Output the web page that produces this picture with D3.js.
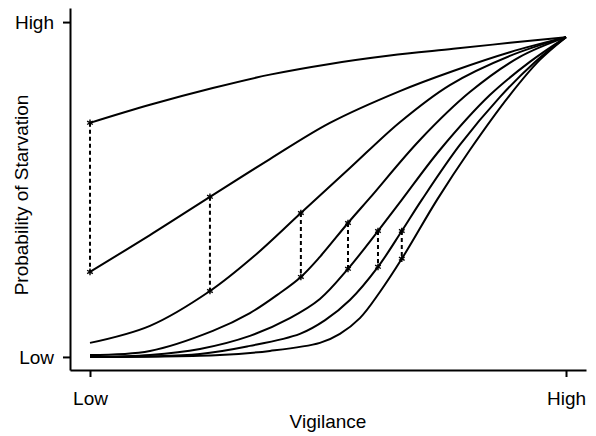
<!DOCTYPE html>
<html>
<head>
<meta charset="utf-8">
<script src="https://cdn.jsdelivr.net/npm/d3@7"></script>
<style>
  body { margin: 0; background: #fff; }
  text { font-family: "Liberation Sans", Arial, Helvetica, sans-serif; }
</style>
</head>
<body>
<svg id="chart"></svg>
<script>
// vigilance (0 = Low, 100 = High) vs probability of starvation (0 = Low, 100 = High)
const curve1X = [0, 12.6, 25.8, 37.8, 50.4, 63.0, 76.3, 88.2, 100];
const curve1Y = [69.9, 75.3, 80.3, 84.3, 87.5, 90.0, 92.0, 93.8, 95.5];

const curve2X = [0, 12.6, 25.2, 37.8, 50.4, 65.1, 76.3, 88.2, 100];
const curve2Y = [25.4, 36.4, 47.8, 59.1, 69.9, 79.4, 85.4, 91.0, 95.5];

const curve3X = [0, 12.6, 25.2, 34.7, 44.3, 54.6, 65.1, 75.6, 88.2, 100];
const curve3Y = [4.2, 9.3, 19.7, 30.4, 43.0, 56.4, 70.1, 81.2, 89.9, 95.5];

const curve4X = [0, 12.6, 25.8, 33.6, 39.9, 44.3, 48.3, 54.2, 58.8, 69.3, 79.8, 90.3, 100];
const curve4Y = [0.6, 1.8, 7.8, 13.1, 19.1, 23.9, 29.9, 40.0, 47.5, 64.8, 79.1, 89.6, 95.5];

const curve5X = [0, 12.6, 23.1, 33.6, 42.0, 48.3, 54.2, 60.5, 65.5, 73.5, 84.0, 92.4, 100];
const curve5Y = [0, 0.6, 2.4, 6.3, 11.6, 17.3, 26.3, 37.6, 46.9, 61.8, 78.2, 88.1, 95.5];

const curve6X = [0, 23.1, 33.6, 44.1, 49.4, 54.6, 60.5, 65.5, 69.7, 77.7, 86.1, 93.5, 100];
const curve6Y = [0, 0.9, 3.3, 6.9, 11.0, 17.0, 26.9, 37.6, 46.9, 63.3, 77.6, 88.1, 95.5];

const curve7X = [0, 27.3, 37.8, 48.3, 52.5, 56.7, 60.9, 65.5, 72.9, 79.8, 88.2, 94.5, 100];
const curve7Y = [0, 0.6, 1.8, 4.2, 6.9, 11.6, 19.4, 29.3, 46.9, 61.8, 78.2, 88.7, 95.5];

// dashed drops between neighbouring curves
const dropX    = [0, 25.2, 44.3, 54.2, 60.5, 65.5];
const dropHigh = [69.9, 47.8, 43.0, 40.0, 37.6, 37.6];
const dropLow  = [25.4, 19.7, 23.9, 26.3, 26.9, 29.3];

const xTicks = [0, 100];
const xTickLabels = ["Low", "High"];
const yTicks = [0, 100];
const yTickLabels = ["Low", "High"];

const width = 596;
const height = 436;

const svg = d3.select("#chart")
    .attr("width", width)
    .attr("height", height);

const x = d3.scaleLinear().domain([-4.2, 104.2]).range([70, 586]);
const y = d3.scaleLinear().domain([-3.9, 104.2]).range([370, 8]);

const curves = [
    [curve1X, curve1Y], [curve2X, curve2Y], [curve3X, curve3Y], [curve4X, curve4Y],
    [curve5X, curve5Y], [curve6X, curve6Y], [curve7X, curve7Y]
].map(([xs, ys]) => xs.map((v, i) => [v, ys[i]]));

const line = d3.line()
    .x(d => x(d[0]))
    .y(d => y(d[1]))
    .curve(d3.curveCatmullRom.alpha(0.5));

svg.append("g")
    .selectAll("path")
    .data(curves)
    .join("path")
        .attr("d", line)
        .attr("fill", "none")
        .attr("stroke", "#000")
        .attr("stroke-width", 2)
        .attr("stroke-linejoin", "round");

const drops = dropX.map((v, i) => ({x: v, hi: dropHigh[i], lo: dropLow[i]}));

svg.append("g")
    .selectAll("line")
    .data(drops)
    .join("line")
        .attr("x1", d => x(d.x))
        .attr("x2", d => x(d.x))
        .attr("y1", d => y(d.hi))
        .attr("y2", d => y(d.lo))
        .attr("stroke", "#000")
        .attr("stroke-width", 2)
        .attr("stroke-dasharray", "4,3");

const star = d3.symbol().type(d3.symbolAsterisk).size(30);

svg.append("g")
    .selectAll("path")
    .data(drops.flatMap(d => [[d.x, d.hi], [d.x, d.lo]]))
    .join("path")
        .attr("transform", d => `translate(${x(d[0])},${y(d[1])})`)
        .attr("d", star)
        .attr("fill", "none")
        .attr("stroke", "#000")
        .attr("stroke-width", 1.4);

// axes
const xAxis = d3.axisBottom(x)
    .tickValues(xTicks)
    .tickFormat((d, i) => xTickLabels[i])
    .tickSize(7)
    .tickSizeOuter(0)
    .tickPadding(15);

const yAxis = d3.axisLeft(y)
    .tickValues(yTicks)
    .tickFormat((d, i) => yTickLabels[i])
    .tickSize(7)
    .tickSizeOuter(0)
    .tickPadding(9);

const gx = svg.append("g")
    .attr("transform", `translate(0,${y.range()[0]})`)
    .call(xAxis);

const gy = svg.append("g")
    .attr("transform", `translate(${x.range()[0]},0)`)
    .call(yAxis);

[gx, gy].forEach(g => {
    g.selectAll("path, line").attr("stroke", "#000").attr("stroke-width", 2);
    g.selectAll("text")
        .attr("fill", "#000")
        .style("font-size", "19px")
        .style("font-family", '"Liberation Sans", Arial, Helvetica, sans-serif');
});

svg.append("text")
    .attr("x", 328)
    .attr("y", 428)
    .attr("text-anchor", "middle")
    .style("font-size", "19px")
    .text("Vigilance");

svg.append("text")
    .attr("transform", "translate(28,195) rotate(-90)")
    .attr("text-anchor", "middle")
    .style("font-size", "19px")
    .text("Probability of Starvation");
</script>
</body>
</html>
